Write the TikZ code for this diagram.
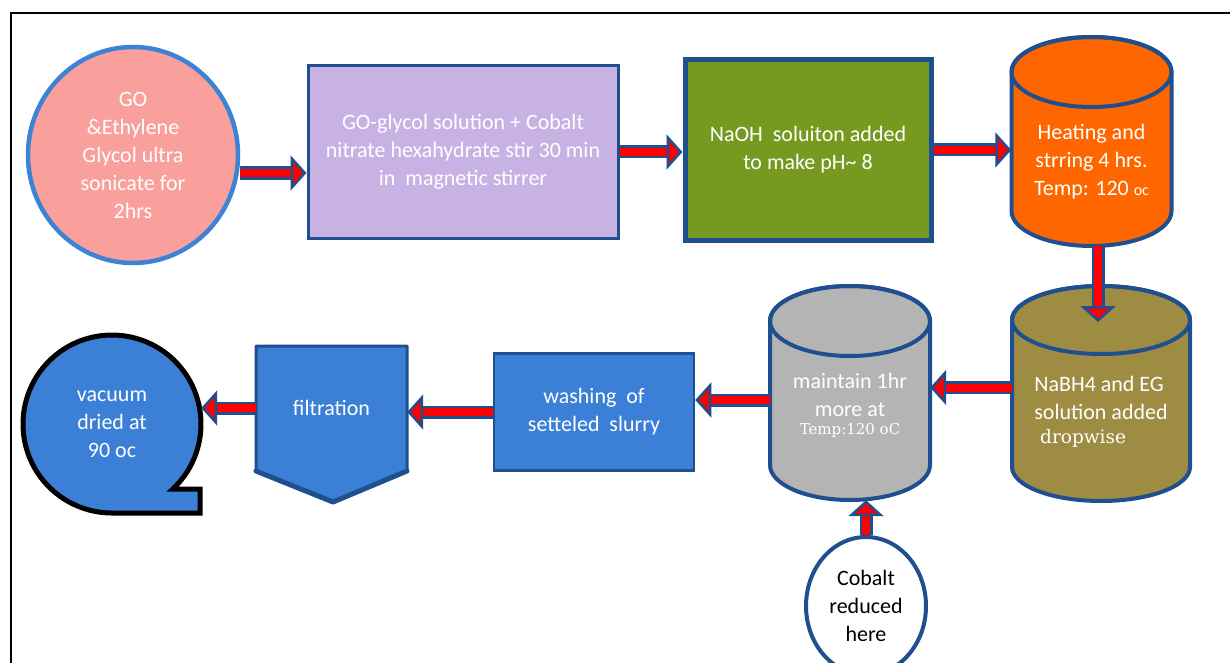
\documentclass[tikz,border=0pt]{standalone}
\usepackage{fontspec}
\setmainfont{Carlito}
\newfontfamily\serifalt{DejaVu Serif}
\usetikzlibrary{arrows.meta,shapes.geometric,calc}
\definecolor{edgeblue}{HTML}{1F4F8F}
\definecolor{ringblue}{HTML}{3E82D6}
\definecolor{salmon}{HTML}{FAA09C}
\definecolor{lilac}{HTML}{C8B2E4}
\definecolor{leaf}{HTML}{769A20}
\definecolor{hotorange}{HTML}{FF6600}
\definecolor{khaki}{HTML}{9E8C42}
\definecolor{steel}{HTML}{B4B4B4}
\definecolor{stepblue}{HTML}{3B80D6}
\tikzset{
  flow/.style={draw=edgeblue, line width=2.5pt, double=red, double distance=8pt,
    -{Triangle[length=16pt,width=35pt,fill=red]}},
  box/.style={rectangle, draw=edgeblue, text=white, align=center, inner sep=0pt},
  tankline/.style={draw=edgeblue, line width=4pt, line join=round},
  tank/.style={rectangle, inner sep=0pt},
  tanktext/.style={text=white, align=center, inner sep=0pt},
}
\begin{document}
\begin{tikzpicture}[x=1pt,y=-1pt,font=\fontsize{22}{28}\selectfont]
\useasboundingbox (0,0) rectangle (1230,663);
% frame
\draw[line width=2.5pt] (1235,13) -- (11,13) -- (11,668);

% top row
\node[ellipse, draw=ringblue, line width=4.5pt, fill=salmon, text=white, align=center,
  minimum width=210, minimum height=216, inner sep=0pt] (go) at (133,155)
  {GO\\\&Ethylene\\Glycol ultra\\sonicate for\\2hrs};
\node[box, line width=3pt, fill=lilac, minimum width=310, minimum height=172] (mix) at (463,152)
  {GO-glycol solution + Cobalt\\nitrate hexahydrate stir 30 min\\in\ \ magnetic stirrer};
\node[box, line width=5pt, fill=leaf, minimum width=246, minimum height=180] (naoh) at (808,150)
  {NaOH\ \ soluiton added\\to make pH\textasciitilde\ 8};
% heating tank
\draw[tankline, fill=hotorange] (1011.5,72) -- (1011.5,211)
  arc[start angle=180, end angle=0, x radius=80, y radius=35] -- (1171.5,72)
  arc[start angle=0, end angle=-180, x radius=80, y radius=35] -- cycle;
\draw[tankline] (1091.5,72) ellipse[x radius=80, y radius=35];
\node[tank, minimum width=160, minimum height=209] (heat) at (1091.5,141.5) {};
\node[tanktext] (heat txt) at ([yshift=-20pt]heat.center)
  {Heating and\\strring 4 hrs.\\Temp: 120 {\fontsize{16}{16}\selectfont oc}};

% bottom row
\draw[tankline, fill=khaki] (1012,320) -- (1012,467)
  arc[start angle=180, end angle=0, x radius=89, y radius=34] -- (1190,320)
  arc[start angle=0, end angle=-180, x radius=89, y radius=34] -- cycle;
\draw[tankline] (1101,320) ellipse[x radius=89, y radius=34];
\node[tank, minimum width=178, minimum height=215] (nabh) at (1101,393.5) {};
\node[tanktext, align=left] (nabh txt) at ([yshift=-18pt]nabh.center)
  {NaBH4 and EG\\solution added\\[-4pt]{\serifalt\fontsize{18.5}{18}\selectfont\ dropwise}};
\draw[tankline, fill=steel] (770,321) -- (770,465)
  arc[start angle=180, end angle=0, x radius=80, y radius=35] -- (930,321)
  arc[start angle=0, end angle=-180, x radius=80, y radius=35] -- cycle;
\draw[tankline] (850,321) ellipse[x radius=80, y radius=35];
\node[tank, minimum width=160, minimum height=214] (maint) at (850,393) {};
\node[tanktext] (maint txt) at ([yshift=-12pt]maint.center)
  {maintain 1hr\\more at\\[-10pt]{\serifalt\fontsize{15}{15}\selectfont Temp:120 oC}};
\node[box, line width=2.5pt, fill=stepblue, minimum width=200, minimum height=117] (wash) at (594,412)
  {washing\ \ of\\setteled\ \ slurry};
\draw[edgeblue, line width=3pt, line join=round, fill=stepblue]
  (256,346) -- (407,346) -- (407,471) -- (333,502) -- (256,471) -- cycle;
\draw[edgeblue, line width=5pt, line join=round, line cap=round]
  (256,471) -- (333,502) -- (407,471);
\node[text=white, minimum width=151, minimum height=125, inner sep=0pt] (filt) at (331.5,408)
  {filtration};
\draw[black, line width=5pt, fill=stepblue]
  (112,513) -- (200,513) -- (200,489) -- (172.8,489)
  arc[start angle=46.9, end angle=-270, radius=89] -- cycle;
\node[circle, text=white, align=center, minimum size=178, inner sep=0pt] (dry) at (112,424)
  {vacuum\\dried at\\90 oc};
\node[ellipse, draw=edgeblue, line width=4pt, fill=white, align=center,
  minimum width=120, minimum height=138, inner sep=0pt] (cob) at (866,606)
  {Cobalt\\reduced\\here};

% arrows
\coordinate (drop) at (1098,322);
\draw[flow] ([yshift=-18pt]go.east) -- ([yshift=-18pt]go.east -| mix.west);
\draw[flow] (mix.east) -- (mix.east -| naoh.west);
\draw[flow] (naoh.east) -- (naoh.east -| heat.west);
\draw[flow] (heat.south -| drop) -- (drop);
\draw[flow] ([yshift=6pt]nabh.west) -- ([yshift=6pt]nabh.west -| maint.east);
\draw[flow] ([yshift=-7pt]maint.west) -- ([yshift=-7pt]maint.west -| wash.east);
\draw[flow] (wash.west) -- (wash.west -| filt.east);
\draw[flow] (filt.west) -- (filt.west -| dry.east);
\draw[flow] (cob.north) -- (cob.north |- maint.south);
\end{tikzpicture}
\end{document}
